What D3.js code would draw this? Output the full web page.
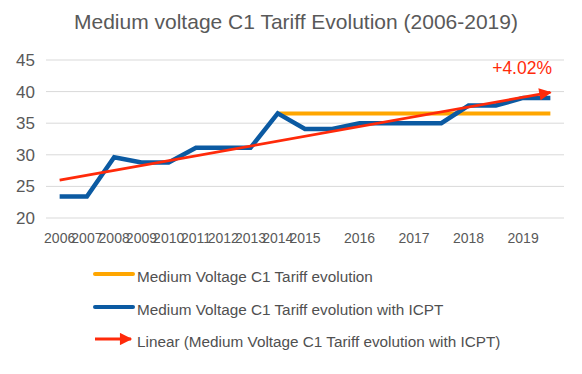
<!DOCTYPE html>
<html><head><meta charset="utf-8">
<script src="https://cdn.jsdelivr.net/npm/d3@7"></script>
<style>body{margin:0;background:#fff}svg{display:block;font-family:"Liberation Sans",Arial,sans-serif}</style>
</head><body><svg id="c" width="582" height="374"></svg>
<script>
const categories = ["2006","2007","2008","2009","2010","2011","2012","2013","2014","2015","","2016","","2017","","2018","","2019",""];
const tariff = [null,null,null,null,null,null,null,null,36.55,36.55,36.55,36.55,36.55,36.55,36.55,36.55,36.55,36.55,36.55];
const tariffICPT = [23.4,23.4,29.6,28.8,28.8,31.1,31.1,31.1,36.55,34.1,34.1,35.0,35.0,35.0,35.0,37.8,37.8,39.0,39.0];
const yTicks = [20,25,30,35,40,45];
const growthLabel = "+4.02%";
const legendLabels = ["Medium Voltage C1 Tariff evolution","Medium Voltage C1 Tariff evolution with ICPT","Linear (Medium Voltage C1 Tariff evolution with ICPT)"];

(function(){
const svg = d3.select("#c");
const pl = 46, pr = 564, pt = 60, pb = 218;
const x = d3.scaleBand().domain(d3.range(categories.length)).range([pl,pr]);
const cx = i => x(i) + x.bandwidth()/2;
const y = d3.scaleLinear().domain([20,45]).range([pb,pt]);

svg.append("text").attr("x",296).attr("y",29).attr("text-anchor","middle")
  .attr("font-size",21).attr("fill","#595959").text("Medium voltage C1 Tariff Evolution (2006-2019)");

svg.append("g").selectAll("line").data(yTicks).join("line")
  .attr("x1",pl).attr("x2",pr).attr("y1",d=>y(d)).attr("y2",d=>y(d))
  .attr("stroke","#d9d9d9").attr("stroke-width",1);

const yAxis = d3.axisLeft(y).tickValues(yTicks).tickSize(0).tickPadding(0);
const gy = svg.append("g").attr("transform",`translate(35,0)`).call(yAxis);
gy.select(".domain").remove();
gy.selectAll("text").attr("font-size",17).attr("fill","#595959").attr("font-family","Liberation Sans,Arial,sans-serif");

const xAxis = d3.axisBottom(x).tickFormat(i=>categories[i]).tickSize(0).tickPadding(0);
const gx = svg.append("g").attr("transform",`translate(0,${pb+15})`).call(xAxis);
gx.select(".domain").remove();
gx.selectAll("text").attr("font-size",14).attr("fill","#595959").attr("font-family","Liberation Sans,Arial,sans-serif");

const line = d3.line().defined(d=>d[1]!=null).x(d=>cx(d[0])).y(d=>y(d[1]));
svg.append("path").datum(tariff.map((v,i)=>[i,v])).attr("d",line)
  .attr("fill","none").attr("stroke","#FFA600").attr("stroke-width",4);
svg.append("path").datum(tariffICPT.map((v,i)=>[i,v])).attr("d",line)
  .attr("fill","none").attr("stroke","#0B5AA2").attr("stroke-width",4.5);

const n = tariffICPT.length, mx = d3.mean(d3.range(n)), my = d3.mean(tariffICPT);
const slope = d3.sum(tariffICPT,(v,i)=>(i-mx)*(v-my)) / d3.sum(d3.range(n),i=>(i-mx)*(i-mx));
const icpt = my - slope*mx;
const defs = svg.append("defs");
defs.append("marker").attr("id","arr").attr("viewBox","0 0 10 10").attr("refX",9).attr("refY",5)
  .attr("markerWidth",5).attr("markerHeight",4.4).attr("orient","auto").attr("markerUnits","strokeWidth")
  .append("path").attr("d","M0,0L10,5L0,10Z").attr("fill","#FF2A0A");
svg.append("line").attr("x1",cx(0)).attr("y1",y(icpt)).attr("x2",cx(n-1)).attr("y2",y(icpt+slope*(n-1)))
  .attr("stroke","#FF2A0A").attr("stroke-width",2.8).attr("marker-end","url(#arr)");

svg.append("text").attr("x",552).attr("y",74).attr("text-anchor","end").attr("font-size",17.5)
  .attr("fill","#FF2A0A").text(growthLabel);

const lg = svg.append("g");
const ly = [274,307,339];
const lcol = ["#FFA600","#0B5AA2","#FF2A0A"];
legendLabels.forEach((t,i)=>{
  if(i<2){
    lg.append("line").attr("x1",95).attr("x2",133).attr("y1",ly[i]).attr("y2",ly[i])
      .attr("stroke",lcol[i]).attr("stroke-width",4).attr("stroke-linecap","round");
  } else {
    lg.append("line").attr("x1",95).attr("x2",131).attr("y1",ly[i]).attr("y2",ly[i])
      .attr("stroke",lcol[i]).attr("stroke-width",2.8).attr("marker-end","url(#arr)");
  }
  lg.append("text").attr("x",137).attr("y",ly[i]+8).attr("font-size",15.3).attr("fill","#505050").text(t);
});
})();
</script></body></html>
